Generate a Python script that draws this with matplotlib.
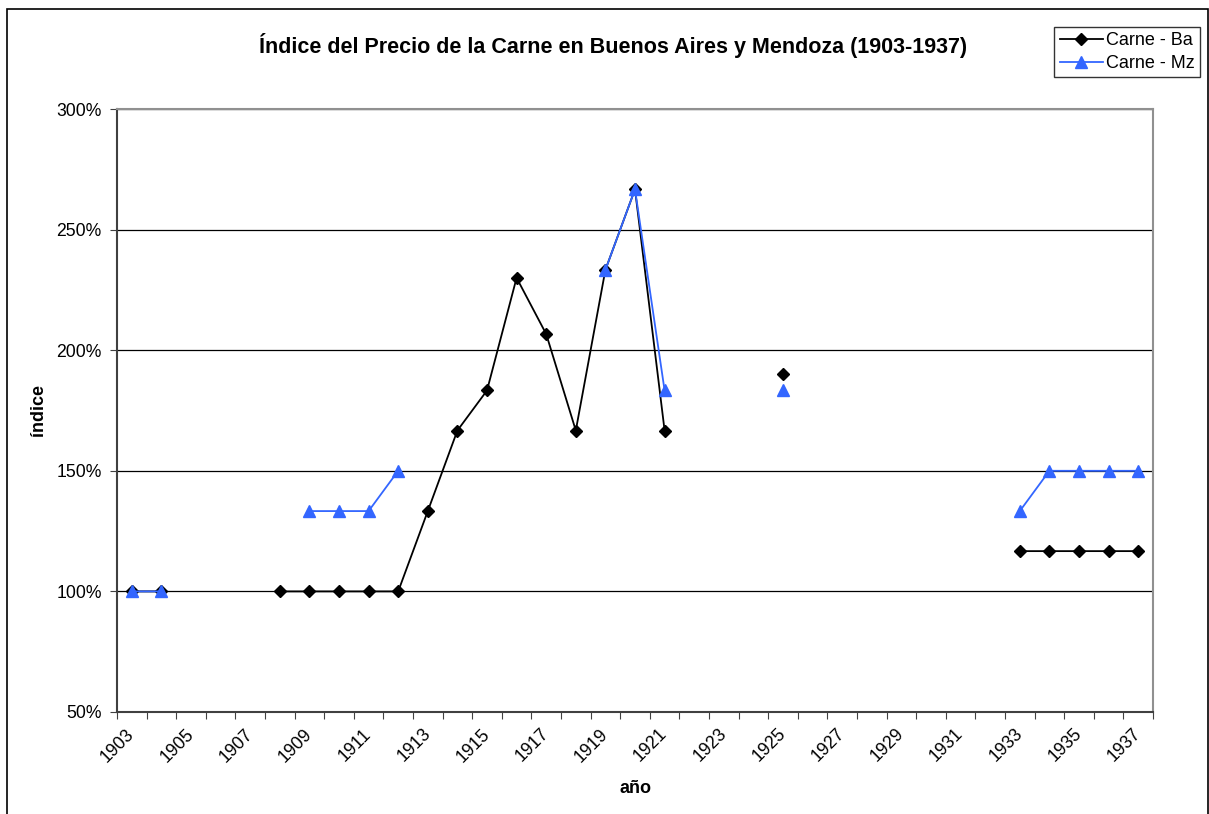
import numpy as np
import matplotlib.pyplot as plt

years = list(range(1903, 1938))
nan = np.nan

# índice (%) por año; los años que faltan quedan sin dato
carne_ba = {1903: 100, 1904: 100, 1908: 100, 1909: 100, 1910: 100, 1911: 100,
            1912: 100, 1913: 133.3, 1914: 166.7, 1915: 183.3, 1916: 230,
            1917: 206.7, 1918: 166.7, 1919: 233.3, 1920: 266.7, 1921: 166.7,
            1925: 190, 1933: 116.7, 1934: 116.7, 1935: 116.7, 1936: 116.7,
            1937: 116.7}
carne_mz = {1903: 100, 1904: 100, 1909: 133.3, 1910: 133.3, 1911: 133.3,
            1912: 150, 1919: 233.3, 1920: 266.7, 1921: 183.3, 1925: 183.3,
            1933: 133.3, 1934: 150, 1935: 150, 1936: 150, 1937: 150}

ba = np.array([carne_ba.get(y, nan) for y in years])
mz = np.array([carne_mz.get(y, nan) for y in years])
x = np.arange(len(years))

plt.rcParams['font.family'] = ['Liberation Sans', 'DejaVu Sans']

fig = plt.figure(figsize=(12.09, 8.14), dpi=100)
ax = fig.add_axes([117/1209, 1 - 712/814, (1153-117)/1209, (712-109)/814])

# borde exterior del gráfico
fig.patches.append(plt.Rectangle((7/1209, -0.01), (1208-7)/1209, 1 - 9/814 + 0.01,
                                 transform=fig.transFigure, fill=False,
                                 edgecolor='black', linewidth=1.2))

ax.plot(x, ba, color='black', linewidth=1.3, marker='D', markersize=6.5,
        label='Carne - Ba', zorder=3)
ax.plot(x, mz, color='#3366FF', linewidth=1.3, marker='^', markersize=8.5,
        label='Carne - Mz', zorder=3)

ax.set_xlim(-0.5, len(years) - 0.5)
ax.set_ylim(50, 300)
ax.set_yticks([50, 100, 150, 200, 250, 300])
ax.set_yticklabels(['50%', '100%', '150%', '200%', '250%', '300%'], fontsize=12.7)
ax.yaxis.grid(True, color='#000000', linewidth=0.9)
ax.set_axisbelow(True)

ax.set_xticks(np.arange(len(years) + 1) - 0.5)
ax.set_xticklabels([])
ax.set_xticks(x[::2], minor=True)
ax.set_xticklabels([str(y) for y in years[::2]], minor=True, rotation=45,
                   ha='right', va='center', rotation_mode='anchor', fontsize=12.7)
ax.tick_params(axis='x', which='minor', length=0, pad=14)
ax.tick_params(axis='x', which='major', length=5, color='#404040')
ax.tick_params(axis='y', length=5, color='#404040', pad=6)

for s in ['left', 'bottom']:
    ax.spines[s].set_color('#404040')
    ax.spines[s].set_linewidth(1.5)
for s in ['top', 'right']:
    ax.spines[s].set_color('#909090')
    ax.spines[s].set_linewidth(1.5)

ax.set_xlabel('año', fontsize=13, fontweight='bold')
ax.set_ylabel('índice', fontsize=13, fontweight='bold')
ax.xaxis.set_label_coords(0.5, (712 - 780) / 603)
ax.yaxis.set_label_coords((47 - 117) / 1036, 0.5)

fig.text(613/1209, 1 - 45/814, 'Índice del Precio de la Carne en Buenos Aires y Mendoza (1903-1937)',
         ha='center', va='center', fontsize=15.5, fontweight='bold')

leg = ax.legend(loc='upper right', bbox_to_anchor=(1200/1209, 1 - 27/814),
                bbox_transform=fig.transFigure, fontsize=13, frameon=True,
                fancybox=False, edgecolor='black', handlelength=2.4,
                handletextpad=0.15, borderpad=0.3, labelspacing=0.3,
                borderaxespad=0)
leg.get_frame().set_linewidth(1.0)

fig.savefig('out.png', dpi=100)
